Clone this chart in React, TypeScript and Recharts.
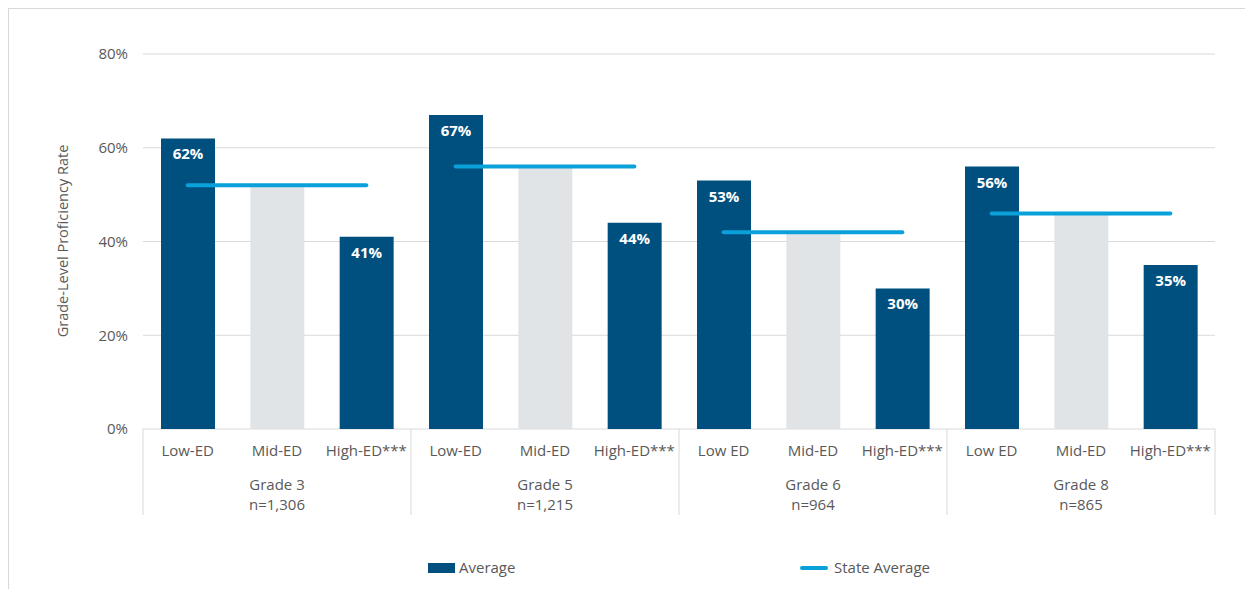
import React from "react";
import {
  ComposedChart,
  Bar,
  Line,
  Cell,
  XAxis,
  YAxis,
  CartesianGrid,
  LabelList,
  Legend,
} from "recharts";

const categories = [
  "Low-ED", "Mid-ED", "High-ED***",
  "Low-ED", "Mid-ED", "High-ED***",
  "Low ED", "Mid-ED", "High-ED***",
  "Low ED", "Mid-ED", "High-ED***",
];
const grades = ["Grade 3", "Grade 5", "Grade 6", "Grade 8"];
const gradeCounts = ["n=1,306", "n=1,215", "n=964", "n=865"];
const averages = [62, 52, 41, 67, 56, 44, 53, 42, 30, 56, 46, 35];
const stateAverages = [52, 56, 42, 46];
const yTicks = [0, 20, 40, 60, 80];

const DARK = "#00507f";
const LIGHT = "#e1e4e7";
const STATE = "#0aa0da";
const GRID = "#d9d9d9";
const TEXT = "#595959";
const FONT = "'Open Sans', sans-serif";

const WIDTH = 1244;
const HEIGHT = 580;
const LEGEND_H = 20;
const margin = { top: 45, right: 38, bottom: 70 - LEGEND_H, left: 84 };
const Y_AXIS_W = 50;
const X_AXIS_H = 90;
const plotWidth = WIDTH - margin.left - margin.right - Y_AXIS_W;
const slot = plotWidth / categories.length;

const stateKeys = grades.map((_, g) => `state${g}`);

// one row per bar; each grade's state average only lives on its own three rows
const rows = categories.map((cat, i) => {
  const g = Math.floor(i / 3);
  const row: Record<string, string | number | null> = {
    id: `c${i}`,
    cat,
    avg: averages[i],
  };
  stateKeys.forEach((k, j) => {
    row[k] = j === g ? stateAverages[g] : null;
  });
  return row;
});

const CategoryTick = (props: any) => {
  const { x, y, payload } = props;
  const i: number = payload.index;
  const g = Math.floor(i / 3);
  return (
    <g fontFamily={FONT} fontSize={15} fill={TEXT}>
      {i % 3 === 0 && (
        <line x1={x - slot / 2} x2={x - slot / 2} y1={y} y2={y + 86} stroke={GRID} />
      )}
      {i === categories.length - 1 && (
        <line x1={x + slot / 2} x2={x + slot / 2} y1={y} y2={y + 86} stroke={GRID} />
      )}
      <text x={x} y={y + 27} textAnchor="middle">
        {categories[i]}
      </text>
      {i % 3 === 1 && (
        <>
          <text x={x} y={y + 61} textAnchor="middle">
            {grades[g]}
          </text>
          <text x={x} y={y + 81} textAnchor="middle">
            {gradeCounts[g]}
          </text>
        </>
      )}
    </g>
  );
};

const BarValue = (props: any) => {
  const { x, y, width, value, index } = props;
  if (index % 3 === 1) return null;
  return (
    <text
      x={x + width / 2}
      y={y + 21}
      textAnchor="middle"
      fill="#ffffff"
      fontFamily={FONT}
      fontWeight={700}
      fontSize={15}
    >
      {`${value}%`}
    </text>
  );
};

const YTitle = () => (
  <text
    x={53}
    y={232}
    transform="rotate(-90 53 232)"
    textAnchor="middle"
    dominantBaseline="central"
    fill={TEXT}
    fontFamily={FONT}
    fontSize={14.5}
  >
    Grade-Level Proficiency Rate
  </text>
);

const ChartLegend = () => (
  <div
    style={{
      position: "relative",
      height: LEGEND_H,
      fontFamily: FONT,
      fontSize: 15,
      color: TEXT,
    }}
  >
    <div style={{ position: "absolute", left: 419, top: 5, width: 27, height: 10, background: DARK }} />
    <div style={{ position: "absolute", left: 450, top: -1, lineHeight: "20px" }}>Average</div>
    <div
      style={{
        position: "absolute",
        left: 791,
        top: 8,
        width: 28,
        height: 4,
        borderRadius: 2,
        background: STATE,
      }}
    />
    <div style={{ position: "absolute", left: 825, top: -1, lineHeight: "20px" }}>State Average</div>
  </div>
);

export default function App() {
  return (
    <div
      style={{
        position: "relative",
        width: 1245,
        height: 581,
        borderTop: `1px solid ${GRID}`,
        borderLeft: `1px solid ${GRID}`,
        boxSizing: "border-box",
        background: "#ffffff",
      }}
    >
      <div style={{ position: "absolute", left: 0, top: 0 }}>
        <ComposedChart width={WIDTH} height={HEIGHT} data={rows} margin={margin} barCategoryGap="20%">
          <CartesianGrid vertical={false} stroke={GRID} />
          <XAxis
            dataKey="id"
            height={X_AXIS_H}
            axisLine={false}
            tickLine={false}
            tickSize={0}
            tickMargin={0}
            interval={0}
            tick={<CategoryTick />}
          />
          <YAxis
            width={Y_AXIS_W}
            domain={[0, 80]}
            ticks={yTicks}
            tickFormatter={(v: number) => `${v}%`}
            axisLine={false}
            tickLine={false}
            tickSize={0}
            tickMargin={15}
            tick={{ fill: TEXT, fontSize: 15, fontFamily: FONT }}
            label={<YTitle />}
          />
          <Legend
            verticalAlign="bottom"
            height={LEGEND_H}
            content={() => <ChartLegend />}
            wrapperStyle={{ position: "absolute", left: 0, top: 549, width: WIDTH }}
          />
          <Bar dataKey="avg" name="Average" barSize={54} isAnimationActive={false}>
            {rows.map((_, i) => (
              <Cell key={i} fill={i % 3 === 1 ? LIGHT : DARK} />
            ))}
            <LabelList dataKey="avg" content={<BarValue />} />
          </Bar>
          {stateKeys.map((k) => (
            <Line
              key={k}
              dataKey={k}
              name="State Average"
              stroke={STATE}
              strokeWidth={4}
              strokeLinecap="round"
              dot={false}
              activeDot={false}
              connectNulls={false}
              isAnimationActive={false}
            />
          ))}
        </ComposedChart>
      </div>
    </div>
  );
}
